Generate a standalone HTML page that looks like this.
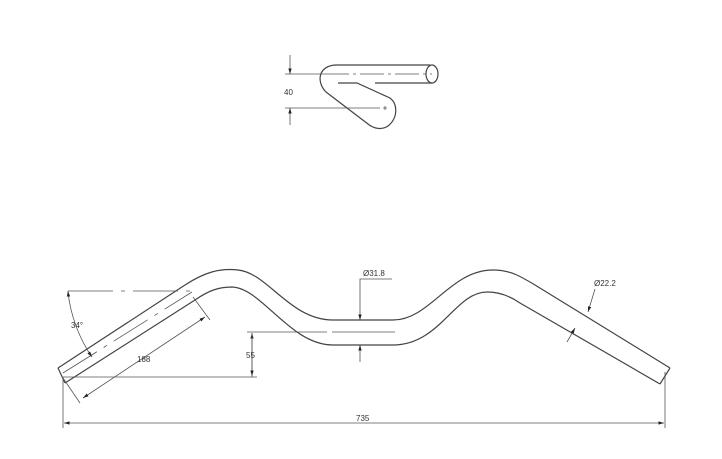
<!DOCTYPE html>
<html><head><style>body{margin:0;background:#fff}svg{display:block}</style></head>
<body>
<svg width="722" height="459" viewBox="0 0 722 459" xmlns="http://www.w3.org/2000/svg" font-family="Liberation Sans, sans-serif">
<defs>
<marker id="a" viewBox="0 0 10 10" refX="10" refY="5" markerWidth="7" markerHeight="7" orient="auto-start-reverse"><path d="M0,2 L10,5 L0,8z" fill="#222"/></marker>
</defs>
<g fill="none" stroke="#444" stroke-width="1.2">
<!-- top view -->
<path d="M337,65 L430,65"/>
<path d="M337,65 C318,65 316,82 326,92 L368,124 C374,129 382,130 388,126 C398,118 398,104 390,98 L357,83 L338,83"/>
<ellipse cx="432" cy="74" rx="6" ry="9"/>
<path d="M432,83 L375,83"/>
</g>
<g stroke="#555" stroke-width="0.8" fill="none">
<path d="M325,74 L432,74" stroke-dasharray="24,4,3,4"/>
<path d="M285,74 L325,74 M285,108 L380,108 M383,108 L387,108 M385,106 L385,110"/>
<path d="M290,55 L290,74" marker-end="url(#a)"/>
<path d="M290,125 L290,108" marker-end="url(#a)"/>
</g>
<text x="284" y="95" font-size="8" fill="#333">40</text>

<!-- main -->
<g fill="none" stroke="#444" stroke-width="1.2">
<path d="M58,368 L185,285 C205,272 220,268 238,270 C268,273 290,320 333,320 L393,320 C430,320 450,270 493,270 C510,270 520,276 535,285 L670,368"/>
<path d="M65,383 L195,300 C208,291 218,287 232,287 C262,288 290,345 333,345 L393,345 C440,345 455,292 487,292 C500,292 510,296 520,303 L660,384"/>
<path d="M58,368 L65,383 M670,368 L660,384"/>
</g>
<g stroke="#555" stroke-width="0.8" fill="none">
<path d="M68,291 L192,291" stroke-dasharray="45,8,4,8"/>
<path d="M63,373 L192,292" stroke-dasharray="40,8,4,8"/>
<path d="M247,332 L395,332" stroke-dasharray="80,5"/>
<path d="M63,377 L257,377"/>
<path d="M252,377 L252,333" marker-end="url(#a)"/>
<path d="M252,333 L252,376" marker-end="url(#a)"/>
<path d="M68,291 C70,315 80,340 92,357" marker-end="url(#a)" marker-start="url(#a)"/>
<path d="M83,398 L205,317" marker-end="url(#a)" marker-start="url(#a)"/>
<path d="M80,403 L63,378 M210,320 L193,297"/>
<path d="M63,377 L63,428 M665,372 L665,428"/>
<path d="M64,423 L664,423" marker-end="url(#a)" marker-start="url(#a)"/>
<path d="M392,279 L360,279 L360,320" marker-end="url(#a)"/>
<path d="M360,362 L360,345" marker-end="url(#a)"/>
<path d="M595,289 L588,312" marker-end="url(#a)"/>
<path d="M567,342 L575,328" marker-end="url(#a)"/>
</g>
<g font-size="8" fill="#333">
<text x="71" y="328">34°</text>
<text x="137" y="362">188</text>
<text x="246" y="358">55</text>
<text x="356" y="421">735</text>
<text x="363" y="276">Ø31.8</text>
<text x="594" y="286">Ø22.2</text>
</g>
</svg>
</body></html>
